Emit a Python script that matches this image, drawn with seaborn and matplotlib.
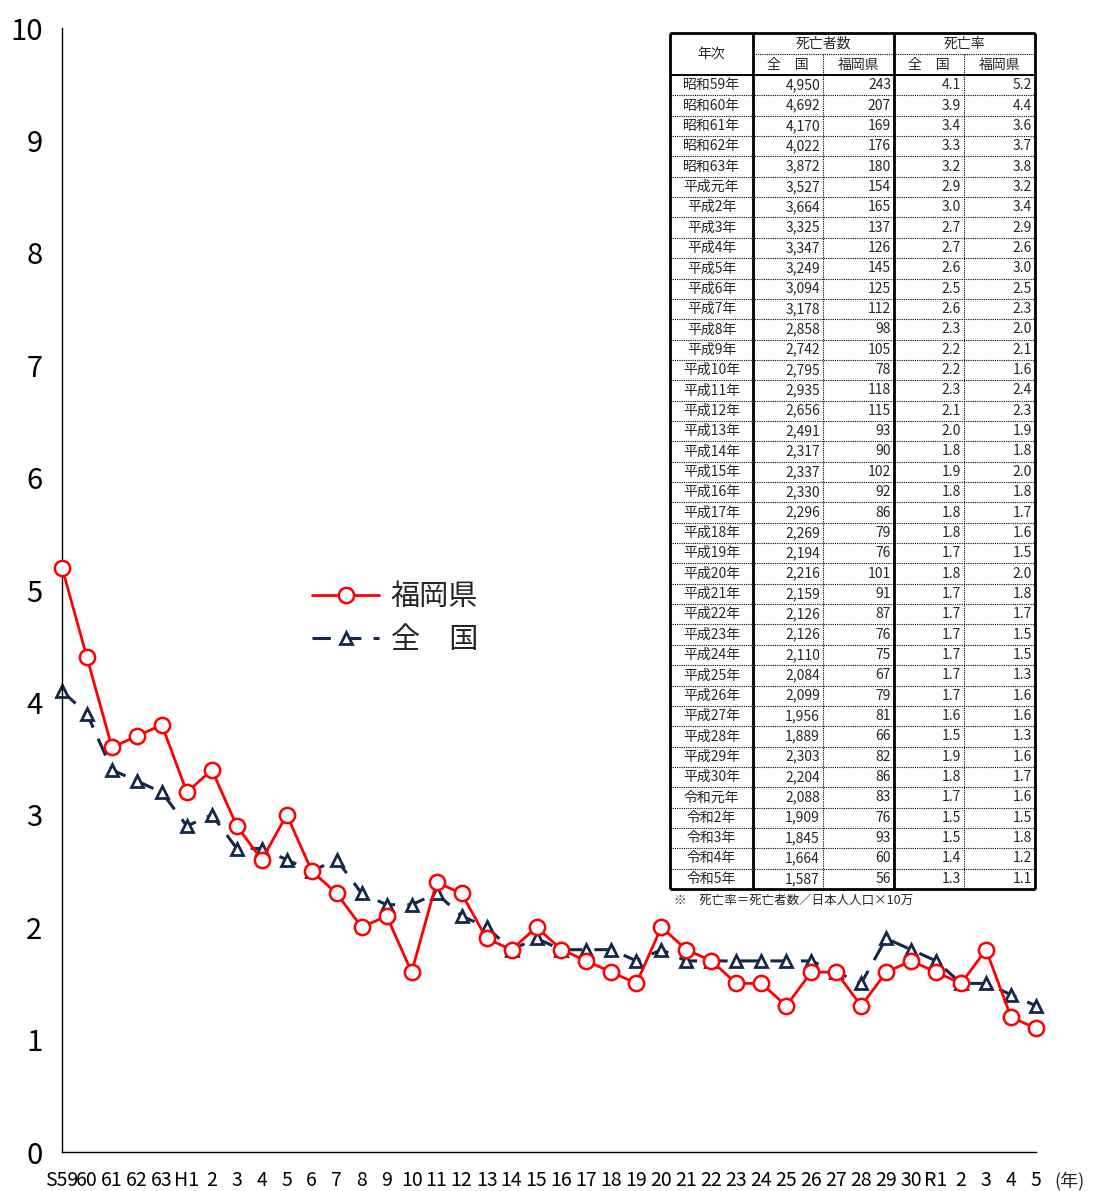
import numpy as np
import pandas as pd
import matplotlib
matplotlib.use("Agg")
import matplotlib.pyplot as plt
import seaborn as sns

# --- data ---
x_labels = ["S59", "60", "61", "62", "63", "H1"] + [str(i) for i in range(2, 31)] + ["R1", "2", "3", "4", "5"]
table_years = (["昭和59年", "昭和60年", "昭和61年", "昭和62年", "昭和63年", "平成元年"]
               + [f"平成{i}年" for i in range(2, 31)]
               + ["令和元年", "令和2年", "令和3年", "令和4年", "令和5年"])
deaths_national = [4950, 4692, 4170, 4022, 3872, 3527, 3664, 3325, 3347, 3249,
                   3094, 3178, 2858, 2742, 2795, 2935, 2656, 2491, 2317, 2337,
                   2330, 2296, 2269, 2194, 2216, 2159, 2126, 2126, 2110, 2084,
                   2099, 1956, 1889, 2303, 2204, 2088, 1909, 1845, 1664, 1587]
deaths_fukuoka = [243, 207, 169, 176, 180, 154, 165, 137, 126, 145,
                  125, 112, 98, 105, 78, 118, 115, 93, 90, 102,
                  92, 86, 79, 76, 101, 91, 87, 76, 75, 67,
                  79, 81, 66, 82, 86, 83, 76, 93, 60, 56]
rate_national = [4.1, 3.9, 3.4, 3.3, 3.2, 2.9, 3.0, 2.7, 2.7, 2.6,
                 2.5, 2.6, 2.3, 2.2, 2.2, 2.3, 2.1, 2.0, 1.8, 1.9,
                 1.8, 1.8, 1.8, 1.7, 1.8, 1.7, 1.7, 1.7, 1.7, 1.7,
                 1.7, 1.6, 1.5, 1.9, 1.8, 1.7, 1.5, 1.5, 1.4, 1.3]
rate_fukuoka = [5.2, 4.4, 3.6, 3.7, 3.8, 3.2, 3.4, 2.9, 2.6, 3.0,
                2.5, 2.3, 2.0, 2.1, 1.6, 2.4, 2.3, 1.9, 1.8, 2.0,
                1.8, 1.7, 1.6, 1.5, 2.0, 1.8, 1.7, 1.5, 1.5, 1.3,
                1.6, 1.6, 1.3, 1.6, 1.7, 1.6, 1.5, 1.8, 1.2, 1.1]

RED = "#ff0000"
NAVY = "#14284b"

sns.set_theme(style="white")
plt.rcParams["font.family"] = ["Noto Sans CJK JP", "DejaVu Sans"]

W, H = 1094, 1191
fig = plt.figure(figsize=(W / 100, H / 100), dpi=100)

# main axes: x from 62px to 1036px, y from 28px (10) to 1152px (0)
ax = fig.add_axes([62 / W, 1 - 1152 / H, (1036 - 62) / W, (1152 - 28) / H])
idx = np.arange(len(x_labels))

sns.lineplot(x=idx, y=rate_national, ax=ax, color=NAVY, lw=2.2, marker="^",
             markersize=8, markerfacecolor="white", markeredgecolor=NAVY,
             markeredgewidth=2.0, label="全　国", zorder=2)
ax.lines[-1].set_linestyle((0, (6, 4)))
sns.lineplot(x=idx, y=rate_fukuoka, ax=ax, color=RED, lw=2.0, marker="o",
             markersize=11, markerfacecolor="white", markeredgecolor=RED,
             markeredgewidth=1.8, label="福岡県", zorder=3)
for ln in ax.lines:
    ln.set_clip_on(False)

ax.set_xlim(0, len(x_labels) - 1)
ax.set_ylim(0, 10)
ax.set_yticks(range(0, 11))
ax.set_xticks(idx)
ax.set_xticklabels(x_labels)
ax.tick_params(axis="y", direction="in", length=7, width=1, labelsize=21, pad=14, colors="black")
ax.tick_params(axis="x", direction="in", length=5, width=1, labelsize=14, pad=13, colors="black")
for s in ["top", "right"]:
    ax.spines[s].set_visible(False)
for s in ["left", "bottom"]:
    ax.spines[s].set_color("black")
    ax.spines[s].set_linewidth(1.0)
ax.set_xlabel("")
ax.set_ylabel("")
ax.patch.set_alpha(0)

handles, labels = ax.get_legend_handles_labels()
order = [labels.index("福岡県"), labels.index("全　国")]
ax.legend([handles[i] for i in order], [labels[i] for i in order],
          loc="upper left", bbox_to_anchor=(312 / W, 1 - 582 / H),
          bbox_transform=fig.transFigure, frameon=False, fontsize=21,
          handlelength=2.3, handletextpad=0.4, labelspacing=0.45,
          borderpad=0, borderaxespad=0)

fig.text(1054 / W, 1 - 1181 / H, "(年)", fontsize=13, ha="left", va="center")

# --- table in pixel coordinates ---
tab = fig.add_axes([0, 0, 1, 1])
tab.set_xlim(0, W)
tab.set_ylim(H, 0)
tab.axis("off")

cols = [670, 753, 823, 894, 964, 1035]
top, hdr1, hdr2 = 33, 54, 75
bottom = 889
n = len(table_years)
row_h = (bottom - hdr2) / n
fs = 10

def hline(y, x0, x1, lw=0.8, ls="-"):
    tab.plot([x0, x1], [y, y], color="black", lw=lw, ls=ls, solid_capstyle="butt")

def vline(x, y0, y1, lw=0.8, ls="-"):
    tab.plot([x, x], [y0, y1], color="black", lw=lw, ls=ls, solid_capstyle="butt")

# outer border and main separators
hline(top, cols[0], cols[-1], lw=2)
hline(bottom, cols[0], cols[-1], lw=2)
vline(cols[0], top, bottom, lw=2)
vline(cols[-1], top, bottom, lw=2)
vline(cols[1], top, bottom, lw=2)
vline(cols[3], top, bottom, lw=2)
hline(hdr2, cols[0], cols[-1], lw=1.4)
hline(hdr1, cols[1], cols[-1], lw=0.8, ls=(0, (1, 1)))
vline(cols[2], hdr1, bottom, lw=0.8, ls=(0, (1, 1)))
vline(cols[4], hdr1, bottom, lw=0.8, ls=(0, (1, 1)))
for i in range(1, n):
    hline(hdr2 + i * row_h, cols[0], cols[-1], lw=0.8, ls=(0, (1, 1)))

tab.text((cols[0] + cols[1]) / 2, (top + hdr2) / 2, "年次", ha="center", va="center", fontsize=fs)
tab.text((cols[1] + cols[3]) / 2, (top + hdr1) / 2, "死亡者数", ha="center", va="center", fontsize=fs)
tab.text((cols[3] + cols[5]) / 2, (top + hdr1) / 2, "死亡率", ha="center", va="center", fontsize=fs)
for c0, c1, t in [(1, 2, "全　国"), (2, 3, "福岡県"), (3, 4, "全　国"), (4, 5, "福岡県")]:
    tab.text((cols[c0] + cols[c1]) / 2, (hdr1 + hdr2) / 2, t, ha="center", va="center", fontsize=fs)

for i in range(n):
    yc = hdr2 + (i + 0.5) * row_h
    tab.text((cols[0] + cols[1]) / 2, yc, table_years[i], ha="center", va="center", fontsize=fs)
    tab.text(cols[2] - 3, yc, f"{deaths_national[i]:,}", ha="right", va="center", fontsize=fs)
    tab.text(cols[3] - 3, yc, f"{deaths_fukuoka[i]}", ha="right", va="center", fontsize=fs)
    tab.text(cols[4] - 3, yc, f"{rate_national[i]:.1f}", ha="right", va="center", fontsize=fs)
    tab.text(cols[5] - 3, yc, f"{rate_fukuoka[i]:.1f}", ha="right", va="center", fontsize=fs)

tab.text(674, 900, "※　死亡率＝死亡者数／日本人人口×10万", ha="left", va="center", fontsize=9)

fig.savefig("out.png", dpi=100)
